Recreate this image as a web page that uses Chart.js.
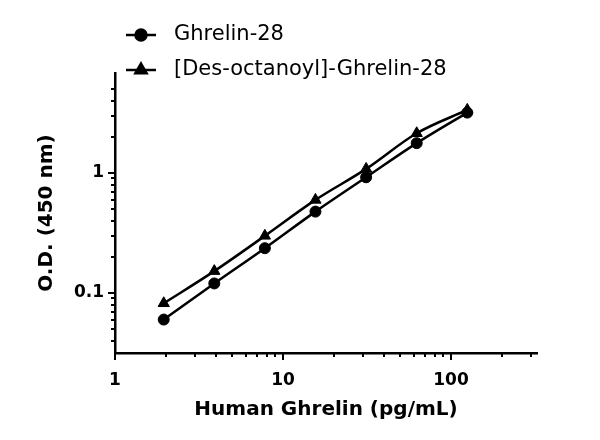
<!DOCTYPE html>
<html><head><meta charset="utf-8">
<script src="https://cdn.jsdelivr.net/npm/chart.js@4/dist/chart.umd.min.js"></script>
<style>html,body{margin:0;padding:0;background:#fff}</style>
</head><body>
<canvas id="c" width="600" height="440" style="display:block;width:600px;height:440px"></canvas>
<script>
// ---- data ----
const concentrations = [1.95, 3.9, 7.8, 15.6, 31.25, 62.5, 125];
const ghrelinOD = [0.060, 0.120, 0.236, 0.476, 0.92, 1.77, 3.18];
const desOctanoylOD = [0.082, 0.152, 0.299, 0.596, 1.08, 2.14, 3.35];
const seriesNames = ['Ghrelin-28', '[Des-octanoyl]-Ghrelin-28'];
const xTickValues = [1,2,3,4,5,6,7,8,9,10,20,30,40,50,60,70,80,90,100,200,300];
const xTickLabels = ['1', '10', '100'];
const yTickValues = [0.04,0.05,0.06,0.07,0.08,0.09,0.1,0.2,0.3,0.4,0.5,0.6,0.7,0.8,0.9,1,2,3,4,5];
const yTickLabels = ['0.1', '1'];
const xTitle = 'Human Ghrelin (pg/mL)';
const yTitle = 'O.D. (450 nm)';

const FONT = "'DejaVu Sans', sans-serif";
const pointStyles = ['circle', 'triangle'];

function lbl(list, v) {
  const s = String(Number(v.toPrecision(6)));
  return list.includes(s) ? s : '';
}

const tickMarks = {
  id: 'tickMarks',
  afterDraw(chart) {
    const ctx = chart.ctx;
    ctx.save();
    ctx.strokeStyle = '#000';
    ctx.lineWidth = 2;
    const xs = chart.scales.x, ys = chart.scales.y;
    xs.ticks.forEach(t => {
      const p = Math.round(xs.getPixelForValue(t.value));
      const len = lbl(xTickLabels, t.value) ? 7 : 4;
      ctx.beginPath(); ctx.moveTo(p, xs.top); ctx.lineTo(p, xs.top + len); ctx.stroke();
    });
    ys.ticks.forEach(t => {
      const p = Math.round(ys.getPixelForValue(t.value));
      const len = lbl(yTickLabels, t.value) ? 7 : 4;
      ctx.beginPath(); ctx.moveTo(ys.right, p); ctx.lineTo(ys.right - len, p); ctx.stroke();
    });
    ctx.restore();
  }
};

const lineLegend = {
  id: 'lineLegend',
  afterDraw(chart) {
    const ctx = chart.ctx;
    ctx.save();
    chart.data.datasets.forEach((ds, i) => {
      const y = 35 + i * 35;
      ctx.strokeStyle = '#000';
      ctx.lineWidth = 2.5;
      ctx.beginPath(); ctx.moveTo(126, y); ctx.lineTo(156, y); ctx.stroke();
      ctx.fillStyle = '#000';
      Chart.helpers.drawPoint(ctx, {pointStyle: ds.pointStyle, radius: ds.pointRadius, rotation: 0, borderWidth: 1}, 141, y);
      ctx.fillStyle = '#000';
      ctx.font = "21px " + FONT;
      ctx.textBaseline = 'middle';
      ctx.textAlign = 'left';
      ctx.fillText(ds.label, 174, y);
    });
    ctx.restore();
  }
};

new Chart(document.getElementById('c'), {
  type: 'line',
  data: {
    labels: concentrations,
    datasets: [
      {label: seriesNames[0], data: concentrations.map((x, i) => ({x, y: ghrelinOD[i]})),
       borderColor: '#000', backgroundColor: '#000', borderWidth: 2.5, cubicInterpolationMode: 'monotone',
       pointStyle: pointStyles[0], pointRadius: 5.5, pointBorderWidth: 1, pointHoverRadius: 5.5},
      {label: seriesNames[1], data: concentrations.map((x, i) => ({x, y: desOctanoylOD[i]})),
       borderColor: '#000', backgroundColor: '#000', borderWidth: 2.5, cubicInterpolationMode: 'monotone',
       pointStyle: pointStyles[1], pointRadius: 6.5, pointBorderWidth: 1, pointHoverRadius: 6.5}
    ]
  },
  options: {
    responsive: false,
    animation: false,
    devicePixelRatio: 1,
    layout: {padding: {top: 73, right: 63, left: 0, bottom: 0}},
    plugins: {legend: {display: false}, tooltip: {enabled: false}},
    scales: {
      x: {
        type: 'logarithmic', position: 'bottom', min: 1, max: 325,
        afterBuildTicks: s => { s.ticks = xTickValues.map(v => ({value: v})); },
        afterFit: s => { s.height = 87; },
        ticks: {autoSkip: false, maxRotation: 0, minRotation: 0, padding: 9, color: '#000',
                font: {family: FONT, size: 17, weight: 'bold'},
                callback: v => lbl(xTickLabels, v)},
        grid: {display: true, drawOnChartArea: false, drawTicks: true, tickLength: 8, tickColor: 'rgba(0,0,0,0)'},
        border: {display: true, color: '#000', width: 2.5},
        title: {display: true, text: xTitle, color: '#000',
                font: {family: FONT, size: 20, weight: 'bold'}, padding: {top: 0, bottom: 18}}
      },
      y: {
        type: 'logarithmic', position: 'left', min: 0.0316, max: 6.8,
        afterBuildTicks: s => { s.ticks = yTickValues.map(v => ({value: v})); },
        afterFit: s => { s.width = 115; },
        ticks: {autoSkip: false, padding: 3, color: '#000',
                font: {family: FONT, size: 17, weight: 'bold'},
                callback: v => lbl(yTickLabels, v)},
        grid: {display: true, drawOnChartArea: false, drawTicks: true, tickLength: 8, tickColor: 'rgba(0,0,0,0)'},
        border: {display: true, color: '#000', width: 2.5},
        title: {display: true, text: yTitle, color: '#000',
                font: {family: FONT, size: 20, weight: 'bold'}, padding: {top: 35, bottom: 0}}
      }
    }
  },
  plugins: [tickMarks, lineLegend]
});
</script>
</body></html>
